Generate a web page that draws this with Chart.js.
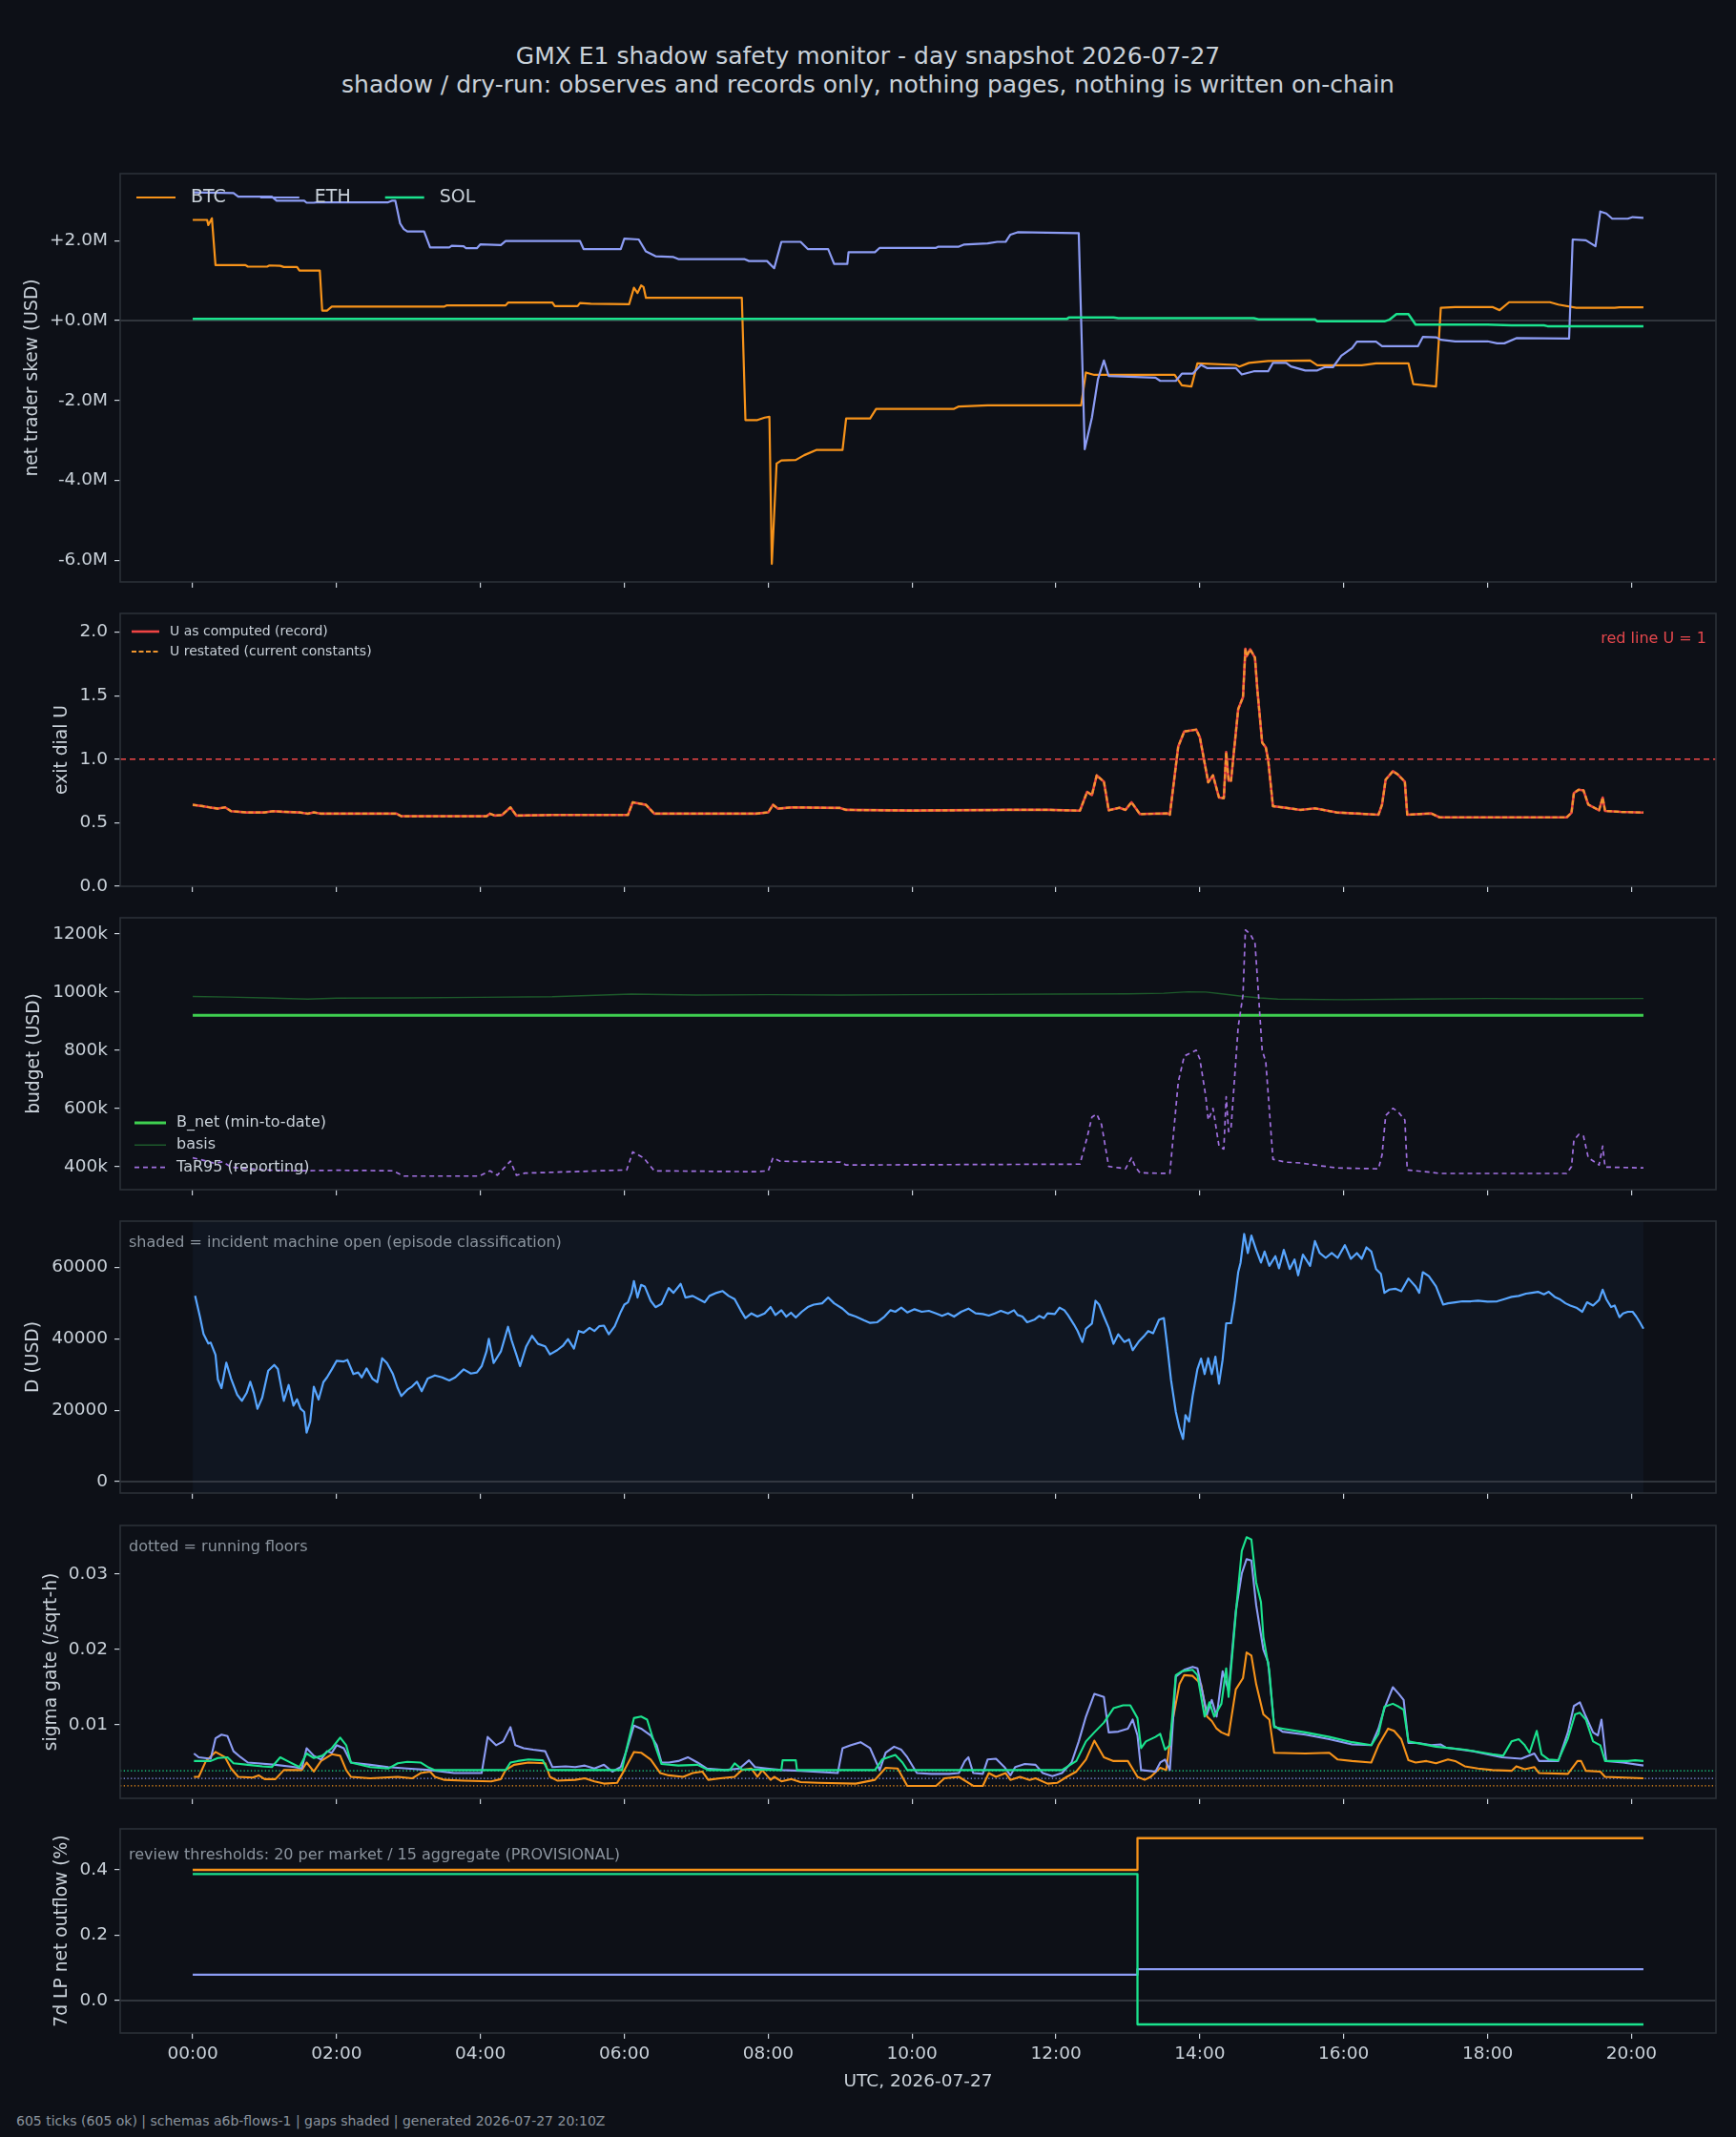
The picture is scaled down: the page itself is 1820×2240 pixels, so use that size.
<!DOCTYPE html>
<html>
<head>
<meta charset="utf-8">
<title>GMX E1 shadow safety monitor</title>
<script src="https://cdn.jsdelivr.net/npm/chart.js@4.4.1/dist/chart.umd.min.js"></script>
<style>
  html, body { margin: 0; padding: 0; background: #0d1017; }
  body { width: 1820px; height: 2240px; position: relative; overflow: hidden; font-family: "DejaVu Sans", sans-serif; color: #c9d1d9; }
  .panel { position: absolute; left: 0; width: 1820px; }
  .label { position: absolute; white-space: nowrap; }
</style>
</head>
<body>
<div class="label" style="left:0;width:1820px;top:44px;height:30px;line-height:30px;font-size:25px;text-align:center">GMX E1 shadow safety monitor - day snapshot 2026-07-27</div>
<div class="label" style="left:0;width:1820px;top:74px;height:30px;line-height:30px;font-size:25px;text-align:center">shadow / dry-run: observes and records only, nothing pages, nothing is written on-chain</div>

<div class="panel" style="top:162px;height:468px"><canvas id="skew"></canvas></div>
<div class="panel" style="top:623px;height:326px"><canvas id="dial"></canvas></div>
<div class="panel" style="top:942px;height:325px"><canvas id="budget"></canvas></div>
<div class="panel" style="top:1260px;height:325px"><canvas id="dusd"></canvas></div>
<div class="panel" style="top:1579px;height:326px"><canvas id="sigma"></canvas></div>
<div class="panel" style="top:1897px;height:279px"><canvas id="lp"></canvas></div>

<div class="label" style="left:126px;width:1673px;top:2168px;height:26px;line-height:26px;font-size:18.5px;text-align:center">UTC, 2026-07-27</div>
<div class="label" style="left:17px;top:2214px;height:18px;line-height:18px;font-size:14px;color:#8b949e">605 ticks (605 ok) | schemas a6b-flows-1 | gaps shaded | generated 2026-07-27 20:10Z</div>

<script>
// time axis: minutes after 00:00 UTC
const xTickMinutes = [0, 120, 240, 360, 480, 600, 720, 840, 960, 1080, 1200];
const xTickLabels = ['00:00', '02:00', '04:00', '06:00', '08:00', '10:00', '12:00', '14:00', '16:00', '18:00', '20:00'];

// net trader skew, USD millions  [minute, value]
const skewBtc = [[0,2.52],[12,2.52],[13,2.39],[16,2.56],[19,1.39],[44,1.39],[46,1.35],[62,1.35],[64,1.38],[73,1.37],[76,1.34],[87,1.34],[89,1.25],[106,1.25],[108,0.25],[112,0.25],[116,0.35],[210,0.35],[212,0.38],[261,0.38],[263,0.45],[300,0.45],[302,0.36],[321,0.36],[323,0.44],[332,0.42],[364,0.41],[368,0.82],[371,0.69],[374,0.88],[376,0.84],[378,0.57],[458,0.57],[461,-2.49],[471,-2.49],[477,-2.43],[481,-2.41],[483,-6.09],[487,-3.58],[491,-3.50],[503,-3.49],[510,-3.37],[520,-3.24],[542,-3.24],[545,-2.45],[565,-2.45],[570,-2.21],[635,-2.21],[639,-2.15],[663,-2.12],[741,-2.12],[745,-1.30],[752,-1.36],[819,-1.36],[825,-1.62],[833,-1.65],[838,-1.07],[870,-1.11],[873,-1.15],[881,-1.06],[897,-1.01],[932,-1.00],[938,-1.12],[975,-1.12],[987,-1.07],[1014,-1.07],[1018,-1.59],[1037,-1.65],[1041,0.32],[1053,0.34],[1084,0.34],[1090,0.26],[1098,0.46],[1132,0.46],[1139,0.40],[1154,0.32],[1186,0.32],[1190,0.33],[1210,0.33]];
const skewEth = [[0,3.21],[34,3.19],[38,3.10],[66,3.10],[70,3.00],[93,3.00],[95,2.95],[101,2.95],[103,2.96],[163,2.96],[166,3.00],[169,3.00],[173,2.43],[176,2.29],[179,2.23],[193,2.23],[198,1.83],[214,1.83],[216,1.87],[226,1.86],[228,1.81],[237,1.81],[240,1.91],[257,1.89],[261,1.99],[323,1.99],[326,1.79],[357,1.79],[360,2.05],[372,2.03],[378,1.73],[386,1.61],[401,1.59],[405,1.54],[460,1.54],[464,1.49],[479,1.49],[485,1.31],[491,1.97],[507,1.97],[513,1.79],[530,1.79],[535,1.42],[546,1.42],[547,1.71],[569,1.71],[573,1.82],[620,1.82],[622,1.85],[639,1.85],[643,1.90],[663,1.93],[671,1.97],[678,1.97],[682,2.15],[688,2.21],[737,2.19],[739,2.19],[744,-3.22],[750,-2.43],[755,-1.47],[760,-1.00],[764,-1.39],[803,-1.43],[807,-1.51],[820,-1.51],[825,-1.33],[834,-1.33],[841,-1.11],[846,-1.19],[870,-1.19],[875,-1.35],[885,-1.27],[897,-1.27],[901,-1.06],[912,-1.06],[916,-1.15],[928,-1.25],[938,-1.25],[944,-1.17],[951,-1.17],[958,-0.88],[967,-0.69],[971,-0.53],[987,-0.53],[992,-0.64],[1022,-0.64],[1026,-0.41],[1037,-0.42],[1041,-0.48],[1053,-0.52],[1080,-0.52],[1088,-0.57],[1094,-0.57],[1104,-0.44],[1148,-0.45],[1151,2.03],[1162,2.01],[1170,1.86],[1174,2.73],[1179,2.68],[1184,2.55],[1197,2.55],[1201,2.59],[1210,2.57]];
const skewSol = [[0,0.04],[729,0.04],[731,0.08],[768,0.08],[772,0.06],[885,0.06],[889,0.03],[936,0.03],[938,-0.02],[994,-0.02],[998,0.02],[1004,0.16],[1014,0.16],[1020,-0.10],[1080,-0.10],[1100,-0.12],[1127,-0.12],[1130,-0.14],[1210,-0.14]];
const skewTicks = [-6, -4, -2, 0, 2];

// exit dial U
const uRecord = [[0,0.64],[8,0.63],[14,0.62],[21,0.61],[27,0.62],[32,0.59],[45,0.58],[60,0.58],[67,0.59],[75,0.585],[89,0.58],[96,0.57],[101,0.58],[104,0.575],[107,0.57],[170,0.57],[174,0.55],[245,0.55],[248,0.57],[252,0.555],[258,0.56],[265,0.62],[270,0.555],[300,0.56],[363,0.56],[367,0.66],[378,0.64],[385,0.57],[470,0.57],[480,0.58],[484,0.64],[488,0.61],[500,0.62],[540,0.615],[545,0.60],[600,0.595],[680,0.60],[715,0.60],[740,0.594],[746,0.742],[750,0.717],[754,0.872],[760,0.822],[764,0.597],[773,0.617],[778,0.60],[783,0.66],[790,0.567],[813,0.572],[815,0.562],[822,1.10],[827,1.218],[837,1.233],[840,1.173],[847,0.817],[851,0.872],[856,0.697],[860,0.692],[862,1.055],[864,0.83],[866,0.83],[872,1.394],[876,1.489],[878,1.87],[879,1.81],[882,1.865],[886,1.80],[888,1.545],[892,1.13],[895,1.093],[897,0.993],[901,0.629],[911,0.617],[924,0.60],[936,0.612],[954,0.58],[989,0.562],[992,0.642],[995,0.838],[1001,0.905],[1005,0.88],[1011,0.822],[1013,0.562],[1033,0.572],[1040,0.541],[1146,0.541],[1150,0.578],[1152,0.733],[1156,0.759],[1160,0.754],[1164,0.642],[1173,0.597],[1176,0.697],[1178,0.592],[1191,0.584],[1210,0.579]];
const uRestated = uRecord; // restated values sit on top of the record all day
const uRedLine = 1.0;
const dialTicks = [0, 0.5, 1.0, 1.5, 2.0];

// budget, USD thousands
const bNet = [[0,920],[1210,920]];
const basis = [[0,985],[30,983],[60,980],[96,976],[120,979],[180,980],[240,982],[300,984],[366,993],[420,990],[480,991],[540,990],[600,991],[660,992],[720,993],[780,994],[810,996],[830,1001],[845,1000],[860,993],[875,986],[890,980],[905,976],[960,974],[1020,976],[1080,978],[1140,977],[1210,978]];
const tar95 = [[0,430],[10,420],[18,411],[25,416],[32,398],[44,393],[60,388],[89,385],[121,387],[167,385],[176,367],[239,367],[248,385],[254,370],[265,418],[270,370],[277,377],[362,388],[367,450],[376,430],[385,385],[470,382],[480,385],[484,430],[490,418],[540,415],[545,405],[740,408],[746,500],[750,570],[754,580],[758,545],[764,400],[773,395],[778,392],[783,430],[786,400],[790,378],[815,376],[822,690],[827,780],[837,800],[840,770],[845,640],[847,560],[851,600],[856,470],[860,460],[862,640],[864,520],[866,530],[872,880],[876,990],[878,1214],[882,1200],[886,1170],[888,1050],[892,800],[895,760],[897,650],[901,425],[911,415],[924,412],[936,405],[954,395],[989,392],[992,440],[995,575],[1001,600],[1005,590],[1011,560],[1013,388],[1033,380],[1040,376],[1146,376],[1150,400],[1152,490],[1156,510],[1160,505],[1164,430],[1173,405],[1176,470],[1178,398],[1210,395]];
const budgetTicks = [400, 600, 800, 1000, 1200];

// D (USD) and incident machine open spans
const dUsd = [[2,51980],[6,46190],[9,41300],[13,38630],[15,38900],[19,35500],[21,28560],[24,26160],[28,33270],[32,28830],[37,24370],[41,22600],[45,24820],[48,27940],[51,24820],[54,20380],[58,23490],[63,31060],[68,32660],[71,31500],[76,22600],[80,27050],[84,21270],[87,23050],[90,20380],[93,19490],[95,13700],[98,16820],[101,26520],[105,22960],[109,27840],[112,29170],[116,31400],[120,33800],[126,33630],[129,34070],[134,30100],[138,30530],[141,29170],[145,31680],[150,28740],[154,27840],[158,34520],[162,33180],[167,30100],[171,26160],[174,23940],[179,25720],[183,26610],[187,27950],[191,25280],[196,28840],[202,29720],[208,29170],[214,28300],[219,29170],[226,31400],[232,30250],[237,30530],[241,32300],[245,36400],[247,39960],[251,33180],[257,36400],[263,43340],[266,39520],[270,35500],[273,32300],[278,37700],[283,40790],[288,38550],[294,37860],[298,35620],[304,36780],[309,38110],[313,39900],[318,37230],[322,42140],[326,41690],[331,43030],[335,42140],[339,43480],[343,43660],[347,41240],[352,43480],[357,47490],[360,49540],[363,50160],[366,52840],[368,56130],[371,51520],[374,55070],[377,54630],[382,50610],[386,48820],[391,49720],[397,54170],[401,52840],[407,55340],[411,51520],[417,51970],[422,51080],[427,50190],[431,51970],[437,52840],[442,53330],[447,51970],[452,51080],[457,47970],[461,45750],[466,47080],[471,46190],[477,47080],[482,48860],[486,46640],[491,47970],[495,46190],[499,47260],[503,45930],[508,47530],[513,48860],[518,49540],[525,49900],[530,51520],[535,49900],[542,48400],[547,46900],[553,46190],[560,45130],[565,44420],[571,44600],[577,46190],[582,47970],[586,47530],[591,48680],[596,47350],[602,48240],[608,47530],[614,47800],[620,47080],[625,46380],[630,47080],[635,46190],[641,47530],[647,48420],[653,47080],[659,46900],[664,46460],[669,47080],[674,47800],[680,47080],[685,47970],[688,46640],[692,46190],[696,44600],[702,45310],[706,46380],[710,45750],[713,47080],[719,46900],[723,48680],[727,47970],[730,46640],[735,43980],[738,42200],[742,39070],[745,42800],[750,44240],[753,50610],[756,49540],[760,46190],[764,43030],[768,38550],[772,41240],[777,39070],[781,39780],[784,36780],[789,39160],[794,40950],[797,42140],[801,41500],[806,45310],[810,45750],[813,37330],[816,28400],[820,19490],[823,15040],[826,11930],[828,18600],[831,16820],[834,23940],[838,31500],[841,34430],[844,30100],[847,34520],[850,30100],[853,34960],[856,27400],[859,34070],[862,44330],[866,44330],[869,50610],[872,58600],[874,61290],[877,69300],[880,63960],[883,68850],[887,64840],[891,61290],[894,64400],[898,60400],[903,63080],[906,59700],[910,64840],[915,59500],[919,62170],[922,57730],[926,63520],[932,60400],[936,67310],[940,63960],[945,62620],[950,63960],[955,62620],[961,66180],[966,62350],[971,63960],[975,62350],[979,65560],[983,64400],[987,59500],[991,58160],[994,52820],[998,53730],[1003,53990],[1008,53280],[1014,56840],[1020,54620],[1023,52840],[1026,58600],[1031,57510],[1037,54620],[1043,49540],[1047,49900],[1053,50190],[1059,50460],[1066,50460],[1072,50640],[1080,50370],[1088,50460],[1094,51080],[1100,51700],[1106,51970],[1112,52600],[1117,52840],[1122,53110],[1127,52420],[1131,53110],[1136,51700],[1140,51080],[1145,49900],[1149,49270],[1154,48680],[1159,47530],[1163,50190],[1168,49270],[1173,50820],[1176,53730],[1179,51080],[1183,48860],[1186,49270],[1190,46010],[1193,47080],[1197,47530],[1201,47530],[1204,46190],[1207,44600],[1210,42800]];
const incidentOpen = [[0, 1210]];
const dTicks = [0, 20000, 40000, 60000];

// sigma gate (/sqrt-h)
const sigmaBtc = [[1,0.0031],[5,0.0031],[11,0.0052],[19,0.0064],[27,0.0057],[32,0.0042],[38,0.0031],[50,0.0030],[55,0.0033],[60,0.0028],[69,0.0028],[76,0.0040],[91,0.0040],[95,0.0050],[101,0.0038],[107,0.0052],[116,0.0061],[123,0.0059],[128,0.0040],[132,0.0031],[148,0.0029],[171,0.0031],[183,0.0029],[190,0.0036],[198,0.0038],[202,0.0031],[210,0.0027],[226,0.0026],[249,0.0025],[257,0.0028],[261,0.0040],[268,0.0047],[280,0.0050],[294,0.0049],[298,0.0031],[304,0.0026],[319,0.0027],[327,0.0029],[335,0.0025],[343,0.0022],[354,0.0023],[360,0.0040],[368,0.0064],[374,0.0063],[382,0.0054],[390,0.0036],[397,0.0033],[409,0.0031],[417,0.0036],[425,0.0038],[430,0.0027],[440,0.0029],[452,0.0031],[458,0.0040],[466,0.0042],[471,0.0031],[475,0.0040],[482,0.0027],[485,0.0031],[491,0.0025],[499,0.0028],[507,0.0024],[522,0.0023],[553,0.0022],[569,0.0027],[578,0.0043],[588,0.0042],[596,0.0019],[620,0.0019],[627,0.0029],[639,0.0031],[651,0.0019],[659,0.0019],[664,0.0036],[670,0.0031],[678,0.0036],[682,0.0027],[690,0.0031],[698,0.0027],[703,0.0029],[713,0.0022],[721,0.0023],[729,0.0031],[737,0.0038],[745,0.0054],[752,0.0079],[760,0.0057],[768,0.0052],[780,0.0052],[788,0.0031],[794,0.0027],[799,0.0031],[807,0.0043],[812,0.0040],[817,0.0103],[823,0.0154],[827,0.0166],[834,0.0165],[841,0.0154],[846,0.0111],[850,0.0105],[854,0.0095],[858,0.0090],[864,0.0086],[870,0.0147],[876,0.0162],[879,0.0196],[883,0.0192],[887,0.0154],[893,0.0114],[898,0.0107],[902,0.0063],[928,0.0062],[948,0.0063],[955,0.0054],[967,0.0052],[983,0.0050],[989,0.0073],[997,0.0095],[1002,0.0092],[1008,0.0081],[1014,0.0053],[1020,0.0050],[1029,0.0052],[1037,0.0049],[1047,0.0054],[1053,0.0052],[1061,0.0045],[1072,0.0042],[1084,0.0040],[1100,0.0039],[1104,0.0045],[1111,0.0041],[1119,0.0044],[1123,0.0036],[1147,0.0035],[1155,0.0052],[1158,0.0052],[1162,0.0039],[1174,0.0038],[1178,0.0031],[1210,0.0029]];
const sigmaEth = [[1,0.0062],[5,0.0057],[15,0.0055],[19,0.0082],[24,0.0087],[29,0.0085],[34,0.0065],[40,0.0057],[46,0.0050],[54,0.0049],[69,0.0047],[85,0.0044],[91,0.0042],[95,0.0069],[101,0.0059],[107,0.0054],[112,0.0065],[116,0.0063],[120,0.0073],[126,0.0069],[132,0.0050],[148,0.0047],[163,0.0044],[179,0.0042],[198,0.0040],[218,0.0036],[241,0.0036],[246,0.0084],[253,0.0073],[259,0.0078],[265,0.0097],[269,0.0073],[276,0.0069],[284,0.0067],[294,0.0065],[300,0.0044],[311,0.0045],[319,0.0044],[327,0.0046],[335,0.0042],[343,0.0047],[350,0.0038],[357,0.0044],[362,0.0067],[368,0.0099],[374,0.0095],[382,0.0086],[387,0.0073],[391,0.0050],[397,0.0050],[405,0.0052],[413,0.0057],[421,0.0050],[429,0.0042],[444,0.0040],[456,0.0042],[464,0.0053],[469,0.0044],[479,0.0042],[491,0.0040],[507,0.0039],[538,0.0036],[542,0.0069],[549,0.0073],[557,0.0077],[565,0.0069],[573,0.0040],[578,0.0063],[585,0.0071],[591,0.0067],[596,0.0057],[604,0.0036],[616,0.0035],[631,0.0035],[639,0.0036],[644,0.0052],[647,0.0057],[651,0.0036],[659,0.0035],[663,0.0054],[670,0.0055],[677,0.0044],[682,0.0033],[686,0.0044],[694,0.0048],[703,0.0047],[709,0.0036],[717,0.0032],[725,0.0036],[733,0.0050],[739,0.0078],[745,0.0111],[752,0.0141],[760,0.0137],[764,0.0090],[772,0.0091],[780,0.0095],[784,0.0107],[788,0.0086],[791,0.0040],[803,0.0038],[807,0.0050],[811,0.0054],[815,0.0040],[820,0.0164],[827,0.0173],[834,0.0177],[838,0.0175],[842,0.0145],[846,0.0114],[850,0.0133],[854,0.0111],[859,0.0171],[864,0.0145],[870,0.0251],[875,0.0301],[879,0.0320],[883,0.0318],[887,0.0259],[893,0.0200],[897,0.0183],[902,0.0099],[909,0.0091],[928,0.0087],[948,0.0081],[967,0.0074],[983,0.0073],[989,0.0095],[994,0.0122],[1001,0.0150],[1006,0.0141],[1010,0.0133],[1014,0.0076],[1022,0.0076],[1033,0.0073],[1041,0.0074],[1045,0.0070],[1068,0.0065],[1092,0.0057],[1108,0.0055],[1119,0.0062],[1123,0.0052],[1139,0.0052],[1147,0.0090],[1152,0.0125],[1157,0.0130],[1162,0.0111],[1168,0.0090],[1172,0.0086],[1175,0.0107],[1179,0.0052],[1193,0.0050],[1210,0.0046]];
const sigmaSol = [[1,0.0052],[15,0.0052],[21,0.0056],[29,0.0057],[34,0.0049],[46,0.0047],[58,0.0045],[66,0.0044],[73,0.0057],[79,0.0052],[89,0.0044],[95,0.0062],[101,0.0056],[108,0.0059],[116,0.0069],[123,0.0083],[128,0.0073],[132,0.0050],[148,0.0044],[163,0.0042],[171,0.0049],[179,0.0051],[190,0.0050],[196,0.0044],[202,0.0040],[261,0.0040],[265,0.0050],[271,0.0052],[280,0.0054],[292,0.0053],[296,0.0040],[358,0.0040],[362,0.0069],[368,0.0109],[374,0.0111],[379,0.0107],[386,0.0071],[391,0.0048],[405,0.0046],[421,0.0047],[430,0.0040],[448,0.0040],[452,0.0049],[458,0.0041],[491,0.0040],[492,0.0053],[503,0.0053],[504,0.0040],[569,0.0040],[575,0.0054],[586,0.0060],[592,0.0050],[596,0.0040],[725,0.0040],[737,0.0052],[745,0.0078],[752,0.0090],[760,0.0103],[768,0.0122],[776,0.0126],[782,0.0126],[788,0.0109],[791,0.0069],[795,0.0078],[803,0.0084],[807,0.0088],[811,0.0067],[815,0.0073],[820,0.0166],[825,0.0171],[834,0.0173],[838,0.0166],[844,0.0111],[848,0.0130],[852,0.0111],[858,0.0128],[862,0.0175],[864,0.0137],[871,0.0265],[875,0.0331],[879,0.0349],[883,0.0346],[887,0.0289],[891,0.0263],[893,0.0217],[898,0.0171],[902,0.0097],[909,0.0095],[928,0.0090],[948,0.0084],[967,0.0077],[983,0.0073],[989,0.0088],[994,0.0124],[1001,0.0128],[1006,0.0124],[1010,0.0120],[1014,0.0078],[1037,0.0071],[1061,0.0067],[1084,0.0061],[1093,0.0059],[1100,0.0078],[1106,0.0081],[1111,0.0073],[1115,0.0063],[1121,0.0092],[1125,0.0061],[1131,0.0054],[1139,0.0053],[1147,0.0082],[1153,0.0114],[1157,0.0116],[1162,0.0107],[1168,0.0078],[1174,0.0073],[1178,0.0052],[1197,0.0052],[1203,0.0053],[1210,0.0052]];
const sigmaFloors = [0.0019, 0.0029, 0.0039]; // BTC, ETH, SOL
const sigmaTicks = [0.01, 0.02, 0.03];

// 7d LP net outflow (%)
const lpBtc = [[0,0.400],[788,0.497],[1210,0.497]];
const lpEth = [[0,0.079],[788,0.096],[1210,0.096]];
const lpSol = [[0,0.387],[788,-0.073],[1210,-0.073]];
const lpTicks = [0.0, 0.2, 0.4];

// ---- styling ----
const FAM = '"DejaVu Sans", sans-serif';
const TXT = '#c9d1d9';
const DIM = '#8b949e';
const FRAME = '#2b3038';
const ZERO = '#555b63';
const C_BTC = '#f7931a', C_ETH = '#8c9cf4', C_SOL = '#1be38e';

function series(label, pairs, color, width, extra) {
  return Object.assign({
    label: label,
    data: pairs.map(p => ({ x: p[0], y: p[1] })),
    borderColor: color,
    backgroundColor: color,
    borderWidth: width,
    pointRadius: 0,
    fill: false,
    tension: 0,
    borderJoinStyle: 'round'
  }, extra || {});
}

function xScale(showLabels) {
  return {
    type: 'linear', min: -60.5, max: 1270.5,
    afterBuildTicks: s => { s.ticks = xTickMinutes.map(v => ({ value: v })); },
    afterFit: s => { s.height = showLabels ? 45 : 20; },
    grid: { drawOnChartArea: false, drawTicks: true, tickLength: 6, tickColor: TXT, lineWidth: 1.2 },
    border: { display: false },
    ticks: {
      display: showLabels, autoSkip: false, maxRotation: 0, color: TXT, padding: 5,
      font: { family: FAM, size: 18.5 },
      callback: v => xTickLabels[xTickMinutes.indexOf(v)]
    }
  };
}

function yScale(min, max, ticks, fmt) {
  return {
    type: 'linear', min: min, max: max,
    afterBuildTicks: s => { s.ticks = ticks.map(v => ({ value: v })); },
    afterFit: s => { s.width = 126; },
    grid: { drawOnChartArea: false, drawTicks: true, tickLength: 6, tickColor: TXT, lineWidth: 1.2 },
    border: { display: false },
    ticks: { color: TXT, padding: 7, font: { family: FAM, size: 18.5 }, callback: v => fmt(v) }
  };
}

// plugins
function shade(spans, color) {
  return { id: 'shade', beforeDatasetsDraw(chart) {
    const a = chart.chartArea, c = chart.ctx, x = chart.scales.x;
    c.save(); c.fillStyle = color;
    spans.forEach(s => {
      const x0 = x.getPixelForValue(s[0]), x1 = x.getPixelForValue(s[1]);
      c.fillRect(x0, a.top, x1 - x0, a.bottom - a.top);
    });
    c.restore();
  } };
}

function hlines(lines) {
  return { id: 'hlines', beforeDatasetsDraw(chart) {
    const a = chart.chartArea, c = chart.ctx, y = chart.scales.y;
    c.save();
    lines.forEach(l => {
      const py = y.getPixelForValue(l.value);
      c.strokeStyle = l.color; c.lineWidth = l.width; c.setLineDash(l.dash || []);
      c.beginPath(); c.moveTo(a.left, py); c.lineTo(a.right, py); c.stroke();
    });
    c.restore();
  } };
}

function frame() {
  return { id: 'frame', afterDatasetsDraw(chart) {
    const a = chart.chartArea, c = chart.ctx;
    c.save(); c.strokeStyle = FRAME; c.lineWidth = 1.6;
    c.strokeRect(a.left, a.top, a.right - a.left, a.bottom - a.top);
    c.restore();
  } };
}

function legend(o) {
  return { id: 'lineLegend', afterDatasetsDraw(chart) {
    const a = chart.chartArea, c = chart.ctx;
    let x = a.left + o.dx, y = a.top + o.dy;
    c.save();
    c.font = o.size + 'px ' + FAM;
    c.textBaseline = 'middle';
    chart.data.datasets.forEach(ds => {
      c.strokeStyle = ds.borderColor; c.lineWidth = ds.borderWidth;
      c.setLineDash(ds.borderDash || []);
      c.beginPath(); c.moveTo(x, y); c.lineTo(x + o.handle, y); c.stroke();
      c.setLineDash([]);
      c.fillStyle = TXT;
      c.fillText(ds.label, x + o.handle + o.gap, y);
      if (o.horizontal) x += o.handle + o.gap + c.measureText(ds.label).width + o.colGap;
      else y += o.rowGap;
    });
    c.restore();
  } };
}

function notes(list) {
  return { id: 'notes', afterDatasetsDraw(chart) {
    const a = chart.chartArea, c = chart.ctx;
    c.save(); c.textBaseline = 'middle';
    list.forEach(n => {
      c.font = n.size + 'px ' + FAM; c.fillStyle = n.color; c.textAlign = n.align;
      c.fillText(n.text, n.align === 'right' ? a.right + n.dx : a.left + n.dx, a.top + n.dy);
    });
    c.restore();
  } };
}

function yTitle(text, x) {
  return { id: 'yTitle', afterDraw(chart) {
    const a = chart.chartArea, c = chart.ctx;
    c.save();
    c.translate(x, (a.top + a.bottom) / 2); c.rotate(-Math.PI / 2);
    c.font = '18.7px ' + FAM; c.fillStyle = TXT; c.textAlign = 'center'; c.textBaseline = 'middle';
    c.fillText(text, 0, 0);
    c.restore();
  } };
}

function makeChart(id, datasets, yConf, showX, plugins) {
  // later datasets are painted over earlier ones
  datasets.forEach((ds, i) => { ds.order = datasets.length - i; });
  return new Chart(document.getElementById(id), {
    type: 'line',
    data: { datasets: datasets },
    options: {
      responsive: true, maintainAspectRatio: false, animation: false, devicePixelRatio: 1,
      events: [],
      layout: { padding: { top: 20, right: 21, left: 0, bottom: 0 } },
      plugins: { legend: { display: false }, tooltip: { enabled: false } },
      scales: { x: xScale(showX), y: yConf }
    },
    plugins: plugins
  });
}

// panel 1: net trader skew
makeChart('skew', [
  series('BTC', skewBtc, C_BTC, 2.2),
  series('ETH', skewEth, C_ETH, 2.2),
  series('SOL', skewSol, C_SOL, 2.5)
], yScale(-6.543, 3.678, skewTicks, v => (v >= 0 ? '+' : '') + v.toFixed(1) + 'M'), false, [
  hlines([{ value: 0, color: ZERO, width: 1.2 }]),
  frame(),
  legend({ dx: 17, dy: 25, size: 19, handle: 41, gap: 16, colGap: 36, horizontal: true }),
  yTitle('net trader skew (USD)', 34)
]);

// panel 2: exit dial U
makeChart('dial', [
  series('U as computed (record)', uRecord, '#ef4444', 2.6),
  series('U restated (current constants)', uRestated, '#f0962e', 2.2, { borderDash: [5, 2.5] })
], yScale(-0.002, 2.148, dialTicks, v => v.toFixed(1)), false, [
  hlines([{ value: uRedLine, color: '#f04848', width: 1.6, dash: [6, 4] }]),
  frame(),
  legend({ dx: 12, dy: 19, size: 14, handle: 29, gap: 11, rowGap: 21 }),
  notes([{ text: 'red line U = 1', dx: -10, dy: 27, align: 'right', size: 16, color: '#e5484d' }]),
  yTitle('exit dial U', 65)
]);

// panel 3: budget
makeChart('budget', [
  series('B_net (min-to-date)', bNet, '#3fcf50', 3),
  series('basis', basis, '#1d5a2b', 1.4),
  series('TaR95 (reporting)', tar95, '#a070e0', 1.7, { borderDash: [5, 4] })
], yScale(320.2, 1255.8, budgetTicks, v => v + 'k'), false, [
  frame(),
  legend({ dx: 15, dy: 215, size: 16, handle: 33, gap: 11, rowGap: 23.3 }),
  yTitle('budget (USD)', 36)
]);

// panel 4: D (USD)
makeChart('dusd', [
  series('D', dUsd, '#58a6ff', 2.2)
], yScale(-3204, 72897, dTicks, v => String(v)), false, [
  shade(incidentOpen, 'rgba(88,166,255,0.045)'),
  hlines([{ value: 0, color: ZERO, width: 1.2 }]),
  frame(),
  notes([{ text: 'shaded = incident machine open (episode classification)', dx: 9, dy: 23, align: 'left', size: 16, color: DIM }]),
  yTitle('D (USD)', 35)
]);

// panel 5: sigma gate
makeChart('sigma', [
  series('BTC', sigmaBtc, C_BTC, 2.1),
  series('ETH', sigmaEth, C_ETH, 2.1),
  series('SOL', sigmaSol, C_SOL, 2.1)
], yScale(0.00025, 0.03646, sigmaTicks, v => String(v)), false, [
  hlines([
    { value: sigmaFloors[0], color: C_BTC, width: 1.2, dash: [1.3, 2.4] },
    { value: sigmaFloors[1], color: C_ETH, width: 1.2, dash: [1.3, 2.4] },
    { value: sigmaFloors[2], color: C_SOL, width: 1.2, dash: [1.3, 2.4] }
  ]),
  frame(),
  notes([{ text: 'dotted = running floors', dx: 9, dy: 23, align: 'left', size: 16, color: DIM }]),
  yTitle('sigma gate (/sqrt-h)', 54)
]);

// panel 6: 7d LP net outflow
makeChart('lp', [
  series('BTC', lpBtc, C_BTC, 2.3, { stepped: true }),
  series('ETH', lpEth, C_ETH, 2.3, { stepped: true }),
  series('SOL', lpSol, C_SOL, 2.3, { stepped: true })
], yScale(-0.0993, 0.5255, lpTicks, v => v.toFixed(1)), true, [
  hlines([{ value: 0, color: ZERO, width: 1.2 }]),
  frame(),
  notes([{ text: 'review thresholds: 20 per market / 15 aggregate (PROVISIONAL)', dx: 9, dy: 28, align: 'left', size: 16, color: DIM }]),
  yTitle('7d LP net outflow (%)', 65)
]);
</script>
</body>
</html>
